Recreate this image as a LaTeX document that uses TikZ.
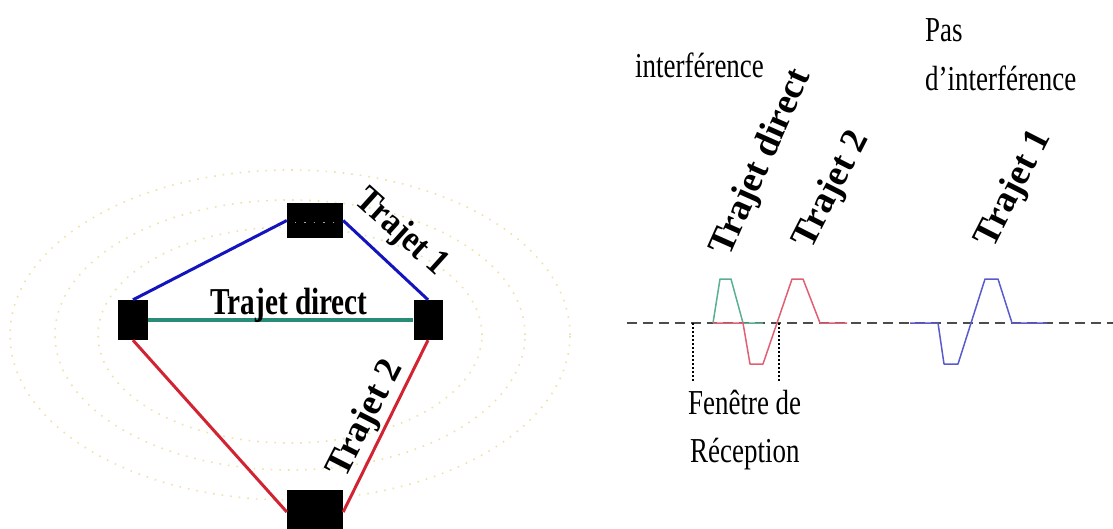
\documentclass[tikz,border=0pt]{standalone}
\usepackage{fontspec}
\setmainfont{Liberation Serif}
\newfontfamily\condserif[FakeStretch=0.77]{Liberation Serif}
\newfontfamily\midserif[FakeStretch=0.88]{Liberation Serif}
\definecolor{pblue}{RGB}{20,20,190}
\definecolor{pteal}{RGB}{40,140,120}
\definecolor{pred}{RGB}{210,35,50}
\definecolor{wgreen}{RGB}{90,175,145}
\definecolor{wred}{RGB}{225,95,115}
\definecolor{wblue}{RGB}{90,90,205}
\definecolor{ellcol}{RGB}{238,226,170}
\tikzset{
  stn/.style={rectangle, fill=black, draw=none, inner sep=0pt},
  bluepath/.style={draw=pblue, line width=3pt},
  tealpath/.style={draw=pteal, line width=4pt},
  redpath/.style={draw=pred, line width=3pt},
  ell/.style={draw=ellcol, line width=1.6pt, dash pattern=on 1.6pt off 7pt},
  hlab/.style={inner sep=0pt, font=\condserif\fontsize{35}{40}\selectfont},
  hbold/.style={inner sep=0pt, font=\condserif\bfseries\fontsize{38}{40}\selectfont},
  rbold/.style={inner sep=0pt, font=\bfseries\fontsize{37}{40}\selectfont},
  mbold/.style={inner sep=0pt, font=\midserif\bfseries\fontsize{37}{40}\selectfont},
  wave/.style={line width=1.5pt, line join=round},
  baseline/.style={draw=black!70, line width=2pt, dash pattern=on 10pt off 6pt},
  window/.style={draw=black, line width=1.5pt, dash pattern=on 2pt off 2pt}
}
\begin{document}
\begin{tikzpicture}[x=1pt, y=-1pt]
\useasboundingbox (0,0) rectangle (1113,529);

% faint dotted ellipses
\draw[ell] (290,335) ellipse [x radius=280pt, y radius=165pt];
\draw[ell] (290,335) ellipse [x radius=235pt, y radius=135pt];
\draw[ell] (290,335) ellipse [x radius=192pt, y radius=108pt];

% stations
\node[stn, minimum width=30pt, minimum height=40pt] (L) at (133,320) {};
\node[stn, minimum width=29pt, minimum height=40pt] (R) at (428,320) {};
\node[stn, minimum width=56pt, minimum height=35pt] (T) at (315,220.5) {};
\node[stn, minimum width=56pt, minimum height=45pt] (B) at (315,512) {};
\draw[gray!70, line width=1.5pt, dash pattern=on 1.5pt off 8pt]
  ([xshift=8pt,yshift=-2pt]T.west) -- ([xshift=-6pt,yshift=-2pt]T.east);

% paths
\draw[bluepath] (L.north) -- (T.west);
\draw[bluepath] (T.east) -- (R.north);
\draw[tealpath] (L.east) -- (R.west);
\draw[redpath] (L.south) -- (B.west);
\draw[redpath] (R.south) -- (B.east);

% left labels
\node[hbold, anchor=base] (tdl) at (289,314) {Trajet direct};
\node[mbold, rotate=-42] (t1l) at (401,233) {Trajet 1};
\node[rbold, rotate=63] (t2l) at (366,419) {Trajet 2};

% right part: time axis
\coordinate (ax0) at (627,323);
\coordinate (ax1) at (1113,323);
\draw[baseline] (ax0) -- (ax1);

% waveforms
\draw[wave, wgreen] (713,323) -- (720,279) -- (731,279) -- (743,323) -- (763,323);
\draw[wave, wred] (713,323) -- (743,323) -- (750,364) -- (763,364) -- (792,279)
  -- (803,279) -- (820,323) -- (847,323);
\draw[wave, wblue] (910,323) -- (938,323) -- (944,364) -- (958,364) -- (985,279)
  -- (998,279) -- (1012,323) -- (1047,323);

% reception window
\coordinate (w1a) at (693,323);
\coordinate (w1b) at (693,382);
\coordinate (w2a) at (779,323);
\coordinate (w2b) at (779,382);
\draw[window] (w1a) -- (w1b);
\draw[window] (w2a) -- (w2b);

% right texts
\node[hlab, anchor=base west] (intf) at (635,78) {interférence};
\node[hlab, anchor=base west] (pas) at (925,42) {Pas};
\node[hlab, anchor=base west] (dintf) at (925,91) {d’interférence};
\node[hlab, anchor=base west] (fen) at (688,414) {Fenêtre de};
\node[hlab, anchor=base west] (rec) at (690,462) {Réception};

\node[rbold, rotate=66] (tdr) at (762,163) {Trajet direct};
\node[rbold, rotate=63] (t2r) at (832,190) {Trajet 2};
\node[rbold, rotate=63] (t1r) at (1014,189) {Trajet 1};
\end{tikzpicture}
\end{document}
